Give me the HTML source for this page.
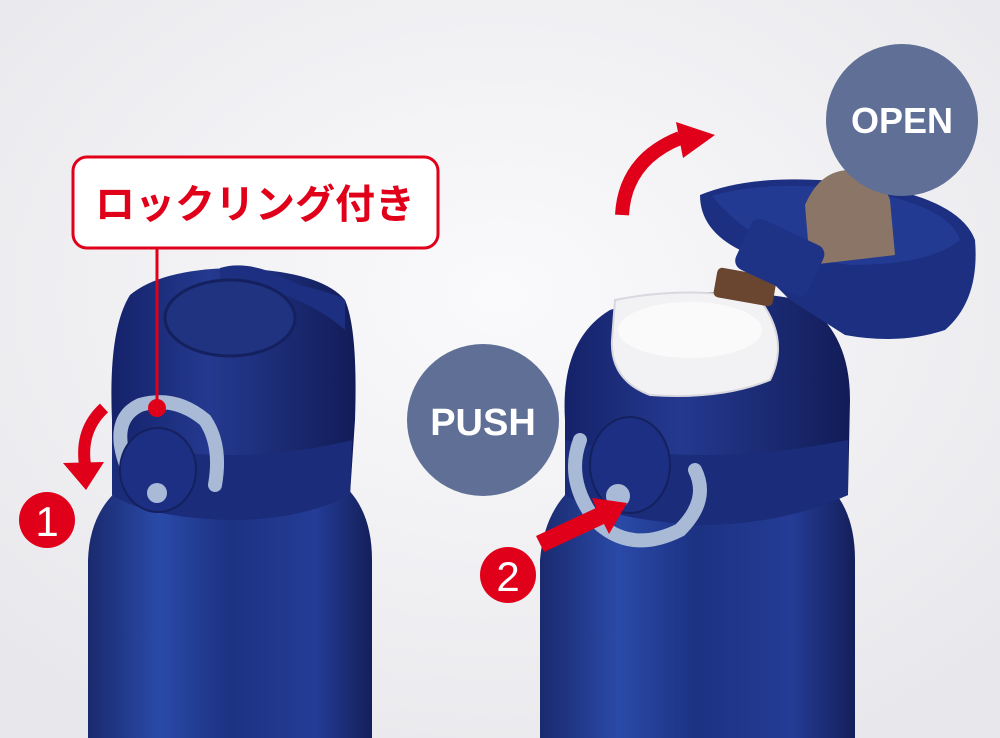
<!DOCTYPE html>
<html><head><meta charset="utf-8"><style>
html,body{margin:0;padding:0;width:1000px;height:738px;overflow:hidden;background:#f3f3f5}
svg{display:block}
</style></head><body>
<svg width="1000" height="738" viewBox="0 0 1000 738" xmlns="http://www.w3.org/2000/svg">
<defs>
<linearGradient id="body" x1="0" x2="1" y1="0" y2="0">
<stop offset="0" stop-color="#1a2a6e"/><stop offset="0.25" stop-color="#2a4aa8"/><stop offset="0.5" stop-color="#1c3282"/><stop offset="0.8" stop-color="#243c96"/><stop offset="1" stop-color="#141f5a"/>
</linearGradient>
<linearGradient id="cap" x1="0" x2="1"><stop offset="0" stop-color="#15226a"/><stop offset="0.4" stop-color="#24398f"/><stop offset="1" stop-color="#121c58"/></linearGradient>
<radialGradient id="bg" cx="0.5" cy="0.4" r="0.7"><stop offset="0" stop-color="#fafafc"/><stop offset="1" stop-color="#e8e8ec"/></radialGradient>
</defs>
<rect width="1000" height="738" fill="url(#bg)"/>

<!-- LEFT BOTTLE -->
<path d="M88 738 L88 560 Q90 500 140 475 L330 475 Q372 500 372 560 L372 738 Z" fill="url(#body)"/>
<path d="M112 420 Q108 330 130 295 Q160 270 230 268 Q320 270 345 300 Q358 330 355 420 L350 495 Q300 520 230 520 Q150 518 112 495 Z" fill="url(#cap)"/>
<path d="M112 440 Q230 470 352 440 L350 495 Q300 520 230 520 Q150 518 112 495 Z" fill="#1a2c7a"/>
<path d="M220 268 Q240 262 265 270 L300 285 Q340 295 345 300 L345 330 Q300 290 220 280Z" fill="#1d2f80"/>
<ellipse cx="230" cy="318" rx="65" ry="38" fill="#1f3380" stroke="#14215e" stroke-width="3"/>
<path d="M128 470 Q108 420 140 405 Q175 395 205 420 Q222 445 215 485" fill="none" stroke="#a9bad6" stroke-width="14" stroke-linecap="round"/>
<ellipse cx="158" cy="470" rx="38" ry="42" fill="#1d2f82" stroke="#14215e" stroke-width="2"/>
<circle cx="157" cy="493" r="10" fill="#a9bad6"/>
<path d="M104 408 Q80 430 85 465" fill="none" stroke="#e0001a" stroke-width="12"/>
<polygon points="63,463 104,462 86,490" fill="#e0001a"/>
<line x1="157" y1="248" x2="157" y2="408" stroke="#e0001a" stroke-width="3"/>
<circle cx="157" cy="408" r="9" fill="#e0001a"/>
<rect x="73" y="157" width="365" height="91" rx="14" fill="#fff" stroke="#e0001a" stroke-width="3"/>
<text x="255" y="218" text-anchor="middle" font-family="'Liberation Sans','Noto Sans CJK JP',sans-serif" font-weight="bold" font-size="40" fill="#e0001a">ロックリング付き</text>
<circle cx="47" cy="520" r="28" fill="#e0001a"/>
<text x="47" y="536" text-anchor="middle" font-family="'Liberation Sans',sans-serif" font-size="42" fill="#fff">1</text>

<!-- RIGHT BOTTLE -->
<path d="M540 738 L540 560 Q545 500 590 475 L815 475 Q855 500 855 560 L855 738 Z" fill="url(#body)"/>
<path d="M565 420 Q560 340 610 310 Q700 280 800 300 Q850 330 850 400 L848 495 Q780 525 700 525 Q610 520 565 495 Z" fill="url(#cap)"/>
<path d="M565 440 Q700 470 848 440 L848 495 Q780 525 700 525 Q610 520 565 495 Z" fill="#1a2c7a"/>
<path d="M615 300 Q690 285 760 300 Q790 340 770 380 Q720 400 650 395 Q610 380 612 340 Z" fill="#f2f2f4" stroke="#d8d8de" stroke-width="2"/>
<ellipse cx="690" cy="330" rx="72" ry="28" fill="#fafafa"/>
<rect x="715" y="272" width="60" height="30" rx="5" fill="#6a4630" transform="rotate(10 745 287)"/>
<path d="M700 195 Q760 170 870 185 Q960 200 975 240 Q980 300 945 330 Q900 345 845 335 L790 300 L740 250 Q700 230 700 195 Z" fill="#1c2f80"/>
<path d="M712 196 Q770 178 870 192 Q950 208 960 240 Q930 265 850 265 Q760 255 712 196 Z" fill="#233a92"/>
<path d="M805 205 Q820 170 850 170 Q880 172 890 200 L895 255 L810 265 Z" fill="#8a7566"/>
<rect x="740" y="230" width="80" height="55" rx="10" fill="#1e3286" transform="rotate(25 780 257)"/>
<path d="M580 440 Q565 480 595 520 Q630 555 680 530 Q710 500 695 470" fill="none" stroke="#a9bad6" stroke-width="14" stroke-linecap="round"/>
<ellipse cx="630" cy="465" rx="40" ry="48" fill="#1d2f82" stroke="#14215e" stroke-width="2"/>
<circle cx="618" cy="496" r="12" fill="#a9bad6"/>
<polygon points="536,536 596,508 592,498 627,503 609,534 604,524 544,552" fill="#e0001a"/>
<circle cx="508" cy="575" r="28" fill="#e0001a"/>
<text x="508" y="591" text-anchor="middle" font-family="'Liberation Sans',sans-serif" font-size="42" fill="#fff">2</text>
<path d="M622 215 Q625 160 680 138" fill="none" stroke="#e0001a" stroke-width="14"/>
<polygon points="676,122 715,135 683,158" fill="#e0001a"/>
<circle cx="902" cy="120" r="76" fill="#5f6f95"/>
<text x="902" y="133" text-anchor="middle" font-family="'Liberation Sans',sans-serif" font-weight="bold" font-size="36" fill="#fff">OPEN</text>
<circle cx="483" cy="420" r="76" fill="#5f6f95"/>
<text x="483" y="435" text-anchor="middle" font-family="'Liberation Sans',sans-serif" font-weight="bold" font-size="38" fill="#fff">PUSH</text>
</svg>
</body></html>
